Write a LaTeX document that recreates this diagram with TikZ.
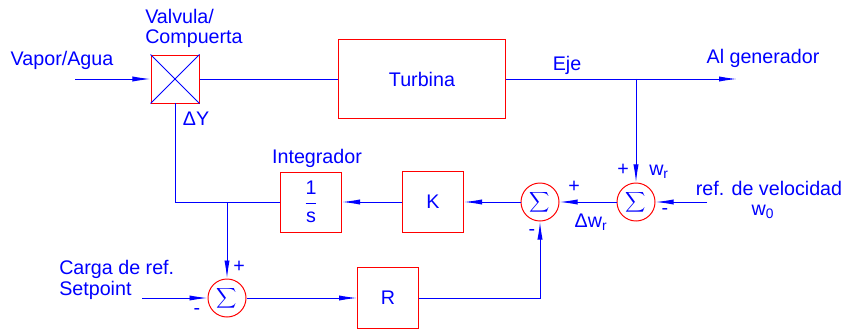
\documentclass[tikz,border=0pt]{standalone}
\usepackage{fontspec}
\setmainfont{Liberation Sans}
\usetikzlibrary{arrows.meta,positioning,calc}

\begin{document}
\begin{tikzpicture}[x=0.025cm, y=-0.025cm, font=\fontsize{14}{14.5}\selectfont,
    blk/.style={draw=red, line width=0.7pt, text=blue, minimum width=1.525cm, minimum height=1.525cm, inner sep=0pt},
    sumnode/.style={circle, draw=red, line width=0.7pt, text=blue, minimum size=0.95cm, inner sep=0pt, font=\fontsize{22}{22}\selectfont},
    sig/.style={blue, line width=0.7pt},
    arr/.style={sig, -{Latex[length=4.5mm, width=1.3mm]}},
    lbl/.style={text=blue, inner sep=0pt}]
    \useasboundingbox (0,0) rectangle (845,334);

    % Blocks
    \node[blk, minimum width=1.2cm, minimum height=1.2cm] (valve) at (175,79) {};
    \draw[sig] (valve.north west) -- (valve.south east) (valve.north east) -- (valve.south west);
    \node[blk, minimum width=4.15cm, minimum height=1.95cm] (turb) at (422,79) {Turbina};
    \node[blk, minimum height=1.5cm] (integ) at (311,202) {$\displaystyle\frac{\mbox{1}}{\mbox{s}}$};
    \node[blk] (gainK) at (433,202) {K};
    \node[blk] (gainR) at (388,298) {R};

    % Summing points
    \node[sumnode] (sumA) at (540,202) {$\displaystyle\sum$};
    \node[sumnode] (sumB) at (636,202) {$\displaystyle\sum$};
    \node[sumnode] (sumC) at (227,298) {$\displaystyle\sum$};

    % Free ends and corners
    \coordinate (vin) at (75,79);
    \coordinate (genout) at (737,79);
    \coordinate (ejebr) at (636,79);
    \coordinate (refin) at (707,202);
    \coordinate (spin) at (142,298);
    \coordinate (fbk) at (175,202);
    \coordinate (intbr) at (227,202);
    \coordinate (rcorner) at (540,298);

    % Signals
    \draw[arr] (vin) -- (valve.west);
    \draw[sig] (valve.east) -- (turb.west);
    \draw[arr] (turb.east) -- (genout);
    \draw[arr] (ejebr) -- (sumB.north);
    \draw[arr] (refin) -- (sumB.east);
    \draw[arr] (sumB.west) -- (sumA.east);
    \draw[arr] (sumA.west) -- (gainK.east);
    \draw[arr] (gainK.west) -- (integ.east);
    \draw[sig] (integ.west) -- (fbk) -- (valve.south);
    \draw[arr] (intbr) -- (sumC.north);
    \draw[arr] (spin) -- (sumC.west);
    \draw[arr] (sumC.east) -- (gainR.west);
    \draw[arr] (gainR.east) -- (rcorner) -- (sumA.south);

    % Labels
    \node[lbl] (vaporlbl) at (62,60) {Vapor/Agua};
    \node[lbl, align=left, anchor=north west] (valvelbl) at (145,9) {Valvula/\\Compuerta};
    \node[lbl] (dylbl) at (196,119) {ΔY};
    \node[lbl] (ejelbl) at (567,65) {Eje};
    \node[lbl] (genlbl) at (763,58) {Al generador};
    \node[lbl] (integlbl) at (317,158) {Integrador};
    \node[lbl] (plusB) at (623,170) {+};
    \node[lbl] (wrlbl) at (659,172) {w\textsubscript{r}};
    \node[lbl] (reflbl) at (769,188) {ref. de velocidad};
    \node[lbl] (w0lbl) at (763,212) {w\textsubscript{0}};
    \node[lbl] (minusB) at (665,211) {-};
    \node[lbl] (plusA) at (574,187) {+};
    \node[lbl] (dwrlbl) at (591,222) {Δw\textsubscript{r}};
    \node[lbl] (minusA) at (532,232) {-};
    \node[lbl] (plusC) at (239,267) {+};
    \node[lbl] (minusC) at (197,311) {-};
    \node[lbl, align=left, anchor=west] (cargalbl) at (59,280) {Carga de ref.\\Setpoint};
\end{tikzpicture}
\end{document}
